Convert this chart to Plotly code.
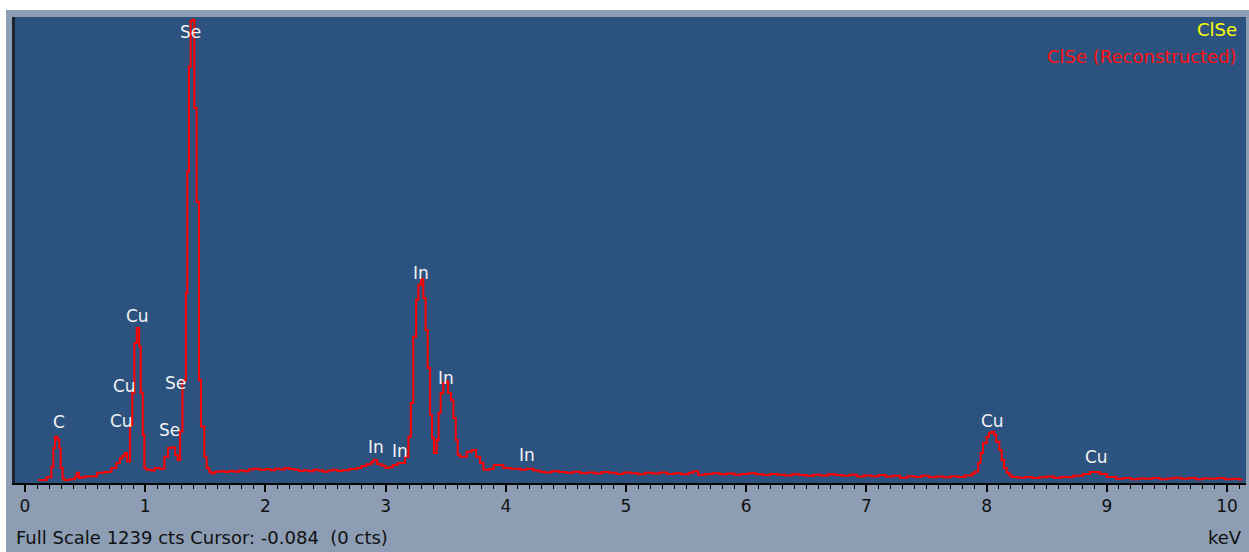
import plotly.graph_objects as go

# Spectrum (step trace): channel start energy (keV) and counts
energy_keV = [
    0.11, 0.18, 0.22, 0.236, 0.25, 0.27, 0.285, 0.297, 0.313, 0.324, 0.37, 0.416, 0.43, 0.45, 0.47,
    0.5, 0.55, 0.6, 0.66, 0.7, 0.72, 0.76, 0.79, 0.81, 0.83, 0.85, 0.874, 0.893, 0.91, 0.93,
    0.95, 0.963, 0.98, 0.993, 1.01, 1.05, 1.08, 1.12, 1.16, 1.19, 1.22, 1.25, 1.27, 1.29,
    1.31, 1.339, 1.35, 1.364, 1.378, 1.395, 1.409, 1.428, 1.448, 1.464, 1.492, 1.511, 1.533,
    1.55, 1.58, 1.62, 1.66, 1.7, 1.74, 1.78, 1.82, 1.86, 1.9, 1.95, 2.0, 2.04, 2.08, 2.12,
    2.16, 2.2, 2.24, 2.28, 2.32, 2.36, 2.4, 2.44, 2.48, 2.52, 2.56, 2.6, 2.64, 2.7, 2.76,
    2.8, 2.84, 2.88, 2.9, 2.93, 2.97, 3.0, 3.03, 3.06, 3.1, 3.162, 3.19, 3.21, 3.23, 3.254,
    3.273, 3.295, 3.314, 3.333, 3.35, 3.37, 3.386, 3.403, 3.425, 3.441, 3.458, 3.48, 3.5,
    3.52, 3.544, 3.564, 3.584, 3.6, 3.62, 3.675, 3.717, 3.753, 3.786, 3.814, 3.86, 3.9,
    3.98, 4.04, 4.12, 4.17, 4.23, 4.28, 4.32, 4.38, 4.44, 4.5, 4.56, 4.62, 4.68, 4.74, 4.8,
    4.86, 4.92, 4.98, 5.04, 5.1, 5.16, 5.22, 5.28, 5.34, 5.4, 5.46, 5.52, 5.56, 5.6, 5.66,
    5.72, 5.78, 5.84, 5.9, 5.96, 6.02, 6.08, 6.14, 6.2, 6.26, 6.32, 6.38, 6.44, 6.5, 6.56,
    6.62, 6.68, 6.74, 6.8, 6.86, 6.92, 6.98, 7.04, 7.1, 7.16, 7.22, 7.28, 7.34, 7.4, 7.46,
    7.52, 7.58, 7.64, 7.7, 7.76, 7.82, 7.88, 7.9, 7.93, 7.95, 7.97, 8.0, 8.02, 8.04, 8.062,
    8.08, 8.106, 8.125, 8.145, 8.167, 8.19, 8.21, 8.26, 8.32, 8.38, 8.44, 8.5, 8.56, 8.62,
    8.68, 8.72, 8.8, 8.86, 8.94, 9.0, 9.08, 9.14, 9.2, 9.26, 9.32, 9.38, 9.44, 9.5, 9.56,
    9.62, 9.68, 9.74, 9.8, 9.86, 9.92, 9.98, 10.04, 10.1, 10.13,
]
counts = [
    8, 15, 43, 93, 123, 115, 93, 40, 13, 8, 10, 16, 27, 13, 15,
    17, 18, 27, 29, 30, 40, 53, 66, 72, 80, 57, 154, 240, 372, 412,
    363, 240, 128, 40, 35, 33, 40, 38, 70, 93, 95, 74, 61, 137,
    274, 505, 828, 1107, 1229, 1232, 997, 748, 274, 150, 70, 40, 30,
    26, 30, 31, 29, 32, 30, 33, 31, 36, 38, 35, 37, 34, 38, 36,
    40, 37, 35, 32, 34, 31, 35, 33, 30, 33, 35, 32, 34, 37, 40,
    45, 50, 55, 61, 50, 46, 40, 42, 48, 53, 70, 123, 213, 389, 487,
    527, 542, 492, 407, 306, 181, 120, 80, 114, 186, 239, 266, 270,
    239, 221, 173, 114, 75, 70, 83, 88, 70, 53, 35, 37, 48,
    40, 38, 35, 38, 33, 30, 28, 31, 29, 27, 30, 26, 28, 25, 29,
    27, 24, 28, 26, 23, 27, 25, 28, 24, 26, 23, 27, 31, 22, 24,
    26, 23, 25, 22, 24, 26, 23, 21, 24, 22, 20, 23, 21, 19, 22,
    20, 23, 21, 19, 22, 17, 20, 18, 21, 17, 19, 14, 18, 16, 19,
    15, 17, 15, 18, 16, 20, 25, 30, 53, 80, 106, 123, 133, 136, 128,
    110, 88, 61, 40, 27, 20, 16, 14, 16, 13, 15, 17, 14, 16,
    15, 19, 24, 29, 24, 16, 11, 13, 10, 12, 11, 13, 10, 12, 14,
    11, 13, 10, 12, 11, 13, 10, 11, 9, 9,
]

# Element labels (text, keV, counts)
label_text = ["Se", "C", "Cu", "Cu", "Cu", "Se", "Se", "In", "In", "In", "In", "In", "Cu", "Cu"]
label_keV = [1.381, 0.283, 0.94, 0.832, 0.807, 1.256, 1.206, 3.294, 3.502, 2.92, 3.12, 4.176, 8.053, 8.918]
label_cts = [1199, 162, 444, 258, 165, 266, 141, 559, 279, 96, 85, 74, 165, 69]

x_ticks = list(range(0, 11))
full_scale = 1239

FONT = "DejaVu Sans"

fig = go.Figure()
fig.add_trace(go.Scatter(
    x=energy_keV, y=counts, mode="lines", line=dict(color="#ff0000", width=2, shape="hv"),
    showlegend=False, hoverinfo="skip",
))

for t, xv, yv in zip(label_text, label_keV, label_cts):
    fig.add_annotation(x=xv, y=yv, xref="x", yref="y", text=t, showarrow=False,
                       font=dict(family=FONT, size=17, color="#f2f2f2"),
                       xanchor="center", yanchor="middle")

# Legend-like texts
fig.add_annotation(x=0.9943, y=0.974, xref="paper", yref="paper", text="ClSe", showarrow=False,
                   font=dict(family=FONT, size=18, color="#ffff00"), xanchor="right", yanchor="middle")
fig.add_annotation(x=0.9943, y=0.916, xref="paper", yref="paper", text="ClSe (Reconstructed)",
                   showarrow=False, font=dict(family=FONT, size=18, color="#ff1010"),
                   xanchor="right", yanchor="middle")

# Status texts
fig.add_annotation(x=-0.0008, y=-0.118, xref="paper", yref="paper",
                   text="Full Scale %d cts Cursor: -0.084&nbsp;&nbsp;(0 cts)" % full_scale,
                   showarrow=False, font=dict(family=FONT, size=18, color="#111111"),
                   xanchor="left", yanchor="middle")
fig.add_annotation(x=0.998, y=-0.116, xref="paper", yref="paper", text="keV", showarrow=False,
                   font=dict(family=FONT, size=18, color="#111111"), xanchor="right", yanchor="middle")

# White strips at top and left edge
W, H = 1249, 552
ml, mr, mt, mb = 15, 3, 17, 69
pw, ph = W - ml - mr, H - mt - mb
fig.add_shape(type="rect", xref="paper", yref="paper", x0=-ml / pw, x1=(W - ml) / pw,
              y0=1 + 7 / ph, y1=1 + mt / ph, fillcolor="white", line_width=0, layer="above")
fig.add_shape(type="rect", xref="paper", yref="paper", x0=-ml / pw, x1=-9 / pw,
              y0=-mb / ph, y1=1 + mt / ph, fillcolor="white", line_width=0, layer="above")

fig.update_xaxes(
    range=[-0.083, 10.158], tickvals=x_ticks, ticktext=[str(v) for v in x_ticks],
    ticks="outside", ticklen=7, tickwidth=1.5, tickcolor="black",
    minor=dict(dtick=0.1, tick0=0, ticks="outside", ticklen=4, tickwidth=1.2, tickcolor="black"),
    showline=True, linecolor="black", linewidth=2, showgrid=False, zeroline=False,
    tickfont=dict(family=FONT, size=17, color="#111111"),
)
fig.update_yaxes(
    range=[0, full_scale], showticklabels=False, ticks="", showgrid=False, zeroline=False,
    showline=True, linecolor="#1b2130", linewidth=3,
)
fig.update_layout(
    width=W, height=H, margin=dict(l=ml, r=mr, t=mt, b=mb, pad=0),
    paper_bgcolor="#8c9db4", plot_bgcolor="#2c5380",
)

fig.write_html("out.html")
